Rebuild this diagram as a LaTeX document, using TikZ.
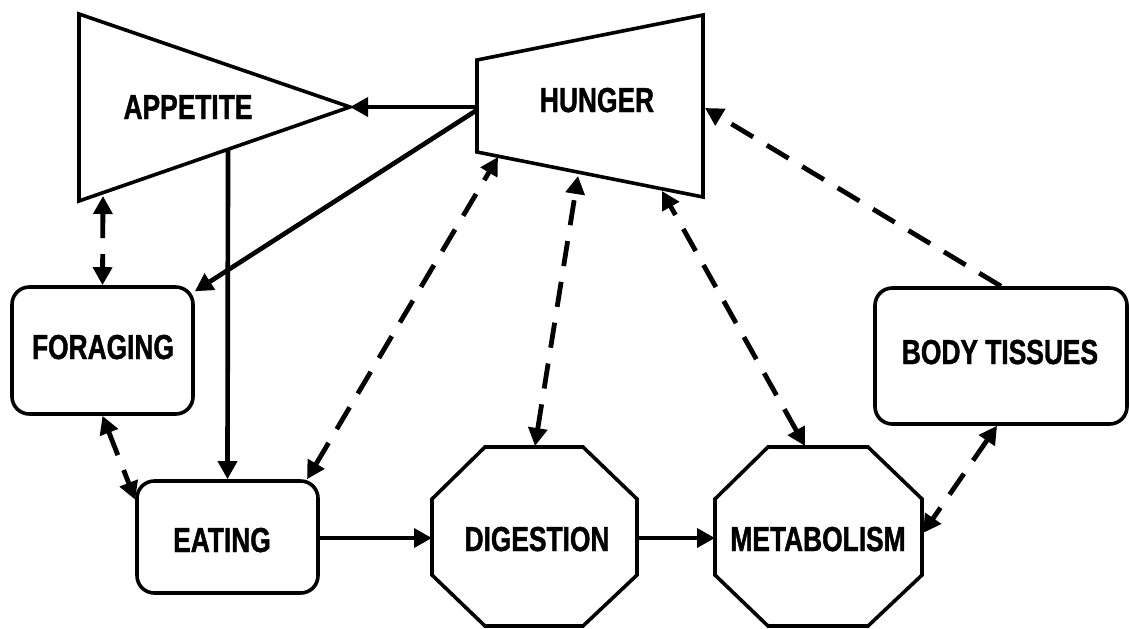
\documentclass[tikz,border=0pt]{standalone}
\usepackage{fontspec}
\newfontfamily\labfont[FakeStretch=0.76,FakeBold=1.2]{Liberation Sans}
\usetikzlibrary{arrows.meta}
\begin{document}
\begin{tikzpicture}[x=0.75pt,y=-0.75pt,
  shp/.style={draw=black,line width=2.7pt,line join=miter},
  box/.style={draw=black,line width=2.7pt,rounded corners=13pt,inner sep=0pt},
  lab/.style={font=\labfont\bfseries\fontsize{26}{26}\selectfont,inner sep=0pt,text height=18pt,text depth=0pt},
  tip/.tip={Triangle[length=13.5pt,width=14pt]},
  conn/.style={line width=3.5pt,-tip},
  dconn/.style={line width=3.6pt,dash pattern=on 19pt off 12pt,tip-tip},
  dconnone/.style={line width=3.6pt,dash pattern=on 19pt off 12pt,-tip}]
\useasboundingbox (0,0) rectangle (1130,628);
% shapes
\draw[shp] (79,14) -- (350,107) -- (79,201) -- cycle;
\draw[shp] (477,60) -- (703,15) -- (703,197) -- (477,152) -- cycle;
\draw[shp] (485,447) -- (583,447) -- (637,499) -- (637,575) -- (583,626) -- (485,626) -- (432,575) -- (432,499) -- cycle;
\draw[shp] (768,447) -- (868,447) -- (922,499) -- (922,575) -- (868,626) -- (768,626) -- (715,575) -- (715,499) -- cycle;
\node[box,minimum width=135.75pt,minimum height=95.25pt] (foraging) at (102.5,350.5) {};
\node[box,minimum width=135.75pt,minimum height=84pt] (eating) at (227.5,537) {};
\node[box,minimum width=189pt,minimum height=102pt] (body) at (1001,356) {};
% labels
\node[lab] (appetite) at (188,107) {APPETITE};
\node[lab] (hunger) at (597,100) {HUNGER};
\node[lab] (foragingT) at (103,347) {FORAGING};
\node[lab] (eatingT) at (222,540) {EATING};
\node[lab] (digestion) at (537,539) {DIGESTION};
\node[lab] (metabolism) at (818,539) {METABOLISM};
\node[lab] (bodyT) at (1000,352) {BODY TISSUES};
% connection points on polygons
\coordinate (appTip) at (350,107);
\coordinate (appBot) at (228,149);
\coordinate (appBotL) at (103,196);
\coordinate (hunW1) at (477,107);
\coordinate (hunW2) at (477,110);
\coordinate (hunS1) at (498,157);
\coordinate (hunS2) at (578,176);
\coordinate (hunS3) at (662,191);
\coordinate (hunE) at (705,108);
\coordinate (digN) at (535,446);
\coordinate (digW) at (432,538);
\coordinate (digE) at (637,538);
\coordinate (metN) at (805,446);
\coordinate (metW) at (715,538);
\coordinate (metE) at (923,533);
% connectors
\draw[conn] (hunW1) -- (appTip);
\draw[conn] (hunW2) -- (foraging);
\draw[conn] (appBot) -- (eating.north);
\draw[conn] (eating.east |- digW) -- (digW);
\draw[conn] (digE) -- (metW);
\draw[dconn] (appBotL) -- (foraging.north);
\draw[dconn] (foraging.south) -- (eating.158);
\draw[dconn] (eating.36) -- (hunS1);
\draw[dconn] (digN) -- (hunS2);
\draw[dconn] (metN) -- (hunS3);
\draw[dconnone] (body.north) -- (hunE);
\draw[dconn] (body.south -| 997,0) -- (metE);
\end{tikzpicture}
\end{document}
